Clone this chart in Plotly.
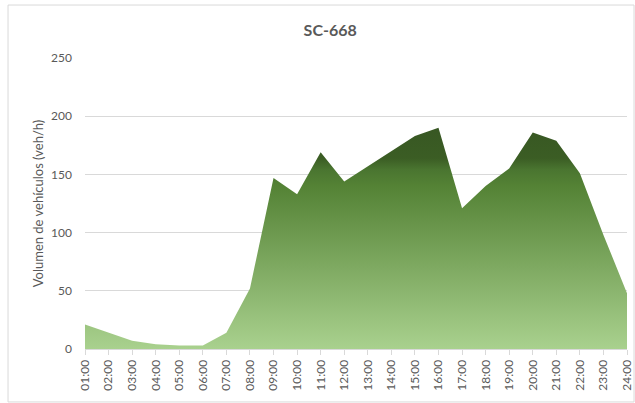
import plotly.graph_objects as go

hours = ["01:00", "02:00", "03:00", "04:00", "05:00", "06:00", "07:00", "08:00",
         "09:00", "10:00", "11:00", "12:00", "13:00", "14:00", "15:00", "16:00",
         "17:00", "18:00", "19:00", "20:00", "21:00", "22:00", "23:00", "24:00"]
volumes = [21, 14, 7, 4, 3, 3, 14, 52, 147, 133, 169, 144, 157, 170, 183, 190,
           121, 140, 155, 186, 179, 151, 98, 48]
y_ticks = [0, 50, 100, 150, 200, 250]

grey_text = "#595959"
grid_color = "#d9d9d9"

fig = go.Figure()

fig.add_trace(go.Scatter(
    x=hours, y=volumes,
    mode="lines",
    line=dict(width=0, color="#548235"),
    fill="tozeroy",
    fillgradient=dict(
        type="vertical",
        start=0, stop=195,
        colorscale=[
            [0.0, "#a9d18e"],
            [0.72, "#548235"],
            [0.79, "#4a7530"],
            [0.84, "#3b5d24"],
            [1.0, "#375623"],
        ],
    ),
    showlegend=False,
    hoverinfo="x+y",
))

fig.update_layout(
    width=635, height=403,
    paper_bgcolor="white", plot_bgcolor="white",
    margin=dict(l=85, r=8, t=58, b=54),
    font=dict(family="Lato, Open Sans, sans-serif", color=grey_text),
    title=dict(
        text="<b>SC-668</b>",
        font=dict(size=16, color=grey_text),
        x=0.52, xanchor="center", y=0.925, yanchor="middle",
    ),
    xaxis=dict(
        type="category",
        range=[0, len(hours) - 1],
        tickangle=-90,
        tickfont=dict(size=12, color=grey_text),
        showgrid=False,
        showline=True, linecolor=grid_color, linewidth=1,
        ticks="outside", ticklen=5, tickcolor=grid_color,
        automargin=False,
    ),
    yaxis=dict(
        range=[0, 250],
        tickvals=y_ticks,
        tickfont=dict(size=12, color=grey_text),
        gridcolor=grid_color, gridwidth=1,
        zeroline=False,
        ticks="", ticklabelstandoff=12,
        title=dict(text="Volumen de vehículos (veh/h)", font=dict(size=13, color=grey_text), standoff=4),
        automargin=False,
    ),
    shapes=[dict(
        type="rect", xref="paper", yref="paper",
        x0=-0.142, x1=1.013, y0=-0.182, y1=1.182,
        line=dict(color="#d9d9d9", width=1),
        layer="below",
    )],
)

fig.write_html("out.html", config={"displayModeBar": False},
               post_script="document.body.style.margin='0';")
